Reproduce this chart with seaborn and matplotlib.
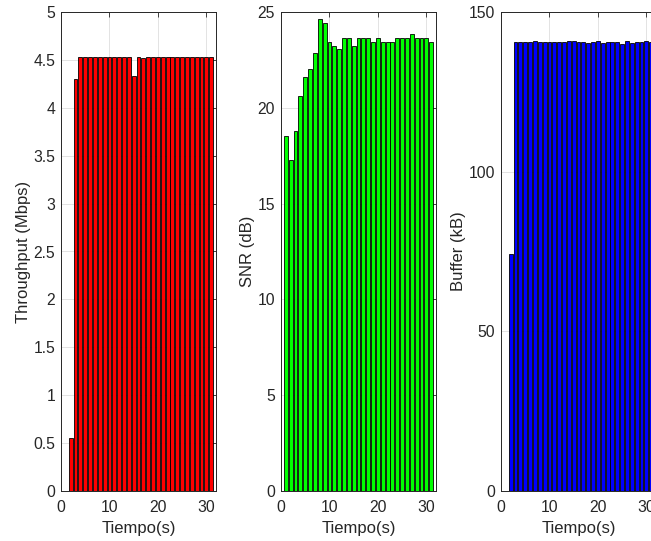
import matplotlib
matplotlib.use("Agg")
import matplotlib.pyplot as plt
import matplotlib.ticker as mticker
import seaborn as sns

# ---- data ----
time_s = [1, 2, 3, 4, 5, 6, 7, 8, 9, 10, 11, 12, 13, 14, 15, 16,
          17, 18, 19, 20, 21, 22, 23, 24, 25, 26, 27, 28, 29, 30, 31]

throughput_mbps = [0.0, 0.55, 4.30, 4.53, 4.53, 4.53, 4.53, 4.53, 4.53, 4.53,
                   4.53, 4.53, 4.53, 4.53, 4.33, 4.53, 4.52, 4.53, 4.53, 4.53,
                   4.53, 4.53, 4.53, 4.53, 4.53, 4.53, 4.53, 4.53, 4.53, 4.53, 4.53]

snr_db = [18.55, 17.28, 18.80, 20.60, 21.62, 22.02, 22.84, 24.66, 24.45, 23.45,
          23.24, 23.07, 23.62, 23.62, 23.24, 23.62, 23.62, 23.62, 23.45, 23.62,
          23.45, 23.45, 23.45, 23.62, 23.62, 23.62, 23.83, 23.62, 23.62, 23.62, 23.45]

buffer_kb = [0.0, 74.3, 140.54, 140.75, 140.54, 140.54, 140.86, 140.54, 140.75, 140.54,
             140.75, 140.54, 140.64, 140.86, 141.07, 140.64, 140.75, 140.43, 140.54, 140.86,
             140.43, 140.54, 140.54, 140.64, 140.10, 140.86, 140.43, 140.75, 140.54, 140.96, 140.54]

x_ticks = [0, 10, 20, 30]
panels = [
    (throughput_mbps, "red", "Throughput (Mbps)", [0, 5], [0, 0.5, 1, 1.5, 2, 2.5, 3, 3.5, 4, 4.5, 5]),
    (snr_db, "#00ff00", "SNR (dB)", [0, 25], [0, 5, 10, 15, 20, 25]),
    (buffer_kb, "blue", "Buffer (kB)", [0, 150], [0, 50, 100, 150]),
]

# ---- style ----
sns.set_style("white")
plt.rcParams["font.family"] = ["Liberation Sans", "DejaVu Sans"]
axis_col = "#262626"

W, H = 651, 541
fig = plt.figure(figsize=(W / 100, H / 100), dpi=100)
lefts = [61, 281, 501]
ax_w, ax_b, ax_h = 155, 50, 479

for (vals, col, ylab, ylim, yticks), lx in zip(panels, lefts):
    ax = fig.add_axes([lx / W, ax_b / H, ax_w / W, ax_h / H])
    sns.barplot(x=time_s, y=vals, native_scale=True, color=col, saturation=1,
                edgecolor="black", linewidth=0.6, width=0.8, errorbar=None, ax=ax)
    ax.set_xlim(0, 32)
    ax.set_ylim(*ylim)
    ax.set_xticks(x_ticks)
    ax.set_yticks(yticks)
    ax.xaxis.set_major_formatter(mticker.FuncFormatter(lambda v, p: f"{v:g}"))
    ax.yaxis.set_major_formatter(mticker.FuncFormatter(lambda v, p: f"{v:g}"))
    ax.grid(True, color=axis_col, alpha=0.15, linewidth=0.6)
    ax.set_axisbelow(True)
    ax.tick_params(direction="in", top=True, right=True, length=3.6, width=0.6,
                   colors=axis_col, labelsize=11.3)
    ax.tick_params(axis="x", pad=6.3)
    ax.tick_params(axis="y", pad=4.3)
    for s in ax.spines.values():
        s.set_visible(True)
        s.set_color(axis_col)
        s.set_linewidth(0.7)
    ax.set_xlabel("Tiempo(s)", fontsize=12, color=axis_col, labelpad=4.5)
    ax.set_ylabel(ylab, fontsize=12, color=axis_col, labelpad=1.5)

fig.savefig("out.png", dpi=100, facecolor="white")
